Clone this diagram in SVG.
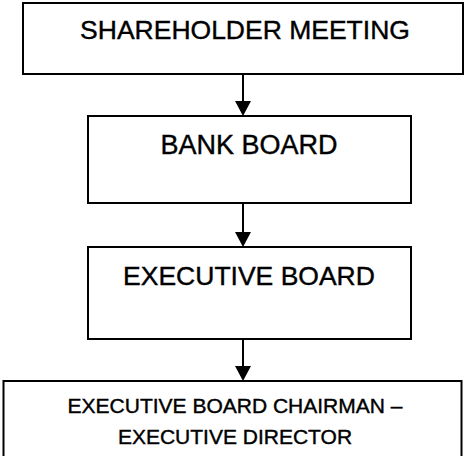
<svg xmlns="http://www.w3.org/2000/svg" width="467" height="456" viewBox="0 0 467 456">
<style>
.box{fill:#fff;stroke:#000;stroke-width:2}
.t{font-family:"Liberation Sans",Arial,sans-serif;fill:#000;stroke:#000;stroke-width:0.4;text-anchor:middle}
.c{stroke:#000;stroke-width:2;fill:none}
.ah{fill:#000}
</style>
<rect width="467" height="456" fill="#fff"/>
<g id="connectors">
<line class="c" x1="243" y1="74" x2="243" y2="101"/>
<path class="ah" d="M235,101 L251,101 L243,116 Z"/>
<line class="c" x1="243" y1="203" x2="243" y2="232"/>
<path class="ah" d="M235,232 L251,232 L243,247 Z"/>
<line class="c" x1="243" y1="339" x2="243" y2="366"/>
<path class="ah" d="M235,366 L251,366 L243,381 Z"/>
</g>
<g id="shareholder-meeting">
<rect class="box" x="23" y="3" width="440" height="71"/>
<text class="t" x="245" y="39" font-size="26.5">SHAREHOLDER MEETING</text>
</g>
<g id="bank-board">
<rect class="box" x="88" y="116" width="323" height="87"/>
<text class="t" x="249" y="154" font-size="27">BANK BOARD</text>
</g>
<g id="executive-board">
<rect class="box" x="88" y="247" width="323" height="92"/>
<text class="t" x="249" y="285" font-size="26.5">EXECUTIVE BOARD</text>
</g>
<g id="executive-board-chairman">
<rect class="box" x="3.5" y="381" width="458" height="80"/>
<text class="t" x="235" y="413" font-size="21">EXECUTIVE BOARD CHAIRMAN –</text>
<text class="t" x="235" y="444" font-size="21">EXECUTIVE DIRECTOR</text>
</g>
</svg>
